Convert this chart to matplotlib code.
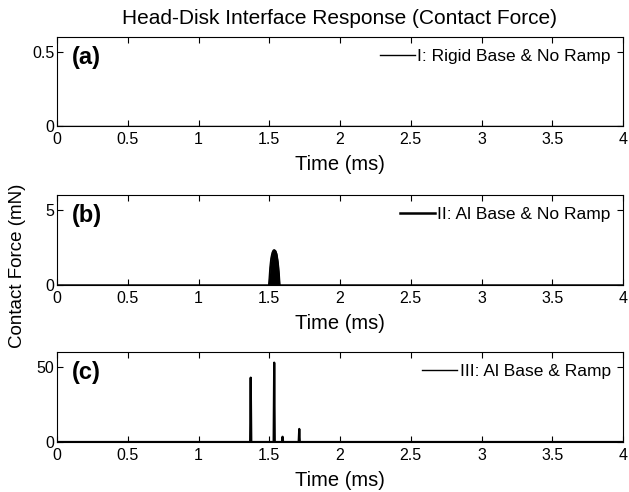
import matplotlib
matplotlib.use("Agg")
import matplotlib.pyplot as plt
from matplotlib.lines import Line2D

plt.rcParams['font.family'] = ['Liberation Sans', 'DejaVu Sans']

# ---- data ----
xticks = [0, 0.5, 1, 1.5, 2, 2.5, 3, 3.5, 4]
xticklabels = ['0', '0.5', '1', '1.5', '2', '2.5', '3', '3.5', '4']

# (a) rigid base, no ramp: no contact
t_a = [0.0, 4.0]
f_a = [0.0, 0.0]

# (b) Al base, no ramp: dense burst envelope around 1.5 ms
t_b = [0.0, 1.496, 1.500, 1.505, 1.512, 1.520, 1.527, 1.534, 1.543, 1.551, 1.558, 1.564, 1.569, 1.573, 4.0]
f_b = [0.0, 0.0, 0.5, 1.2, 1.8, 2.15, 2.3, 2.35, 2.3, 2.1, 1.7, 1.2, 0.6, 0.0, 0.0]

# (c) Al base with ramp: isolated impacts
t_c = [0.0, 1.365, 1.369, 1.373, 1.531, 1.535, 1.539, 1.590, 1.594, 1.598, 1.708, 1.712, 1.716, 4.0]
f_c = [0.0, 0.0, 42.9, 0.0, 0.0, 52.9, 0.0, 0.0, 3.5, 0.0, 0.0, 8.7, 0.0, 0.0]

W, H = 629, 492
fig = plt.figure(figsize=(W / 100, H / 100), dpi=100)

left = 57 / W
width = (623 - 57) / W
panels = [
    dict(top=37, bottom=126, ylim=(0, 0.6), yticks=[0, 0.5], ylabels=['0', '0.5'],
         label='(a)', leg='I: Rigid Base & No Ramp'),
    dict(top=195, bottom=285, ylim=(0, 6), yticks=[0, 5], ylabels=['0', '5'],
         label='(b)', leg='II: Al Base & No Ramp'),
    dict(top=352, bottom=442, ylim=(0, 60), yticks=[0, 50], ylabels=['0', '50'],
         label='(c)', leg='III: Al Base & Ramp'),
]

axes = []
for p in panels:
    ax = fig.add_axes([left, 1 - p['bottom'] / H, width, (p['bottom'] - p['top']) / H])
    ax.set_xlim(0, 4)
    ax.set_ylim(*p['ylim'])
    ax.set_xticks(xticks)
    ax.set_xticklabels(xticklabels)
    ax.set_yticks(p['yticks'])
    ax.set_yticklabels(p['ylabels'])
    ax.tick_params(direction='in', top=True, right=True, length=4, width=0.8,
                   labelsize=11.5)
    ax.tick_params(axis='x', pad=4)
    ax.tick_params(axis='y', pad=2)
    for s in ax.spines.values():
        s.set_linewidth(0.8)
        s.set_color('black')
    ax.set_xlabel('Time (ms)', fontsize=14.5, labelpad=6)
    ax.text(0.027, 0.77, p['label'], transform=ax.transAxes, fontsize=17,
            fontweight='bold', va='center', ha='left')
    axes.append(ax)

la, = axes[0].plot(t_a, f_a, color='black', lw=1.0)
axes[1].fill_between(t_b, f_b, 0, color='black', lw=0.8)
lb, = axes[1].plot(t_b, f_b, color='black', lw=1.0)
lc, = axes[2].plot(t_c, f_c, color='black', lw=1.6)

legend_lw = [1.0, 1.8, 1.0]
for ax, p, lw in zip(axes, panels, legend_lw):
    h = Line2D([], [], color='black', lw=lw)
    ax.legend([h], [p['leg']], loc='upper right', frameon=False, fontsize=12.5,
              handlelength=2.0, handletextpad=0.15, borderaxespad=0.3, borderpad=0.4)

fig.text(340 / W, 1 - 18 / H, 'Head-Disk Interface Response (Contact Force)',
         ha='center', va='center', fontsize=15)
fig.text(18 / W, 1 - 266 / H, 'Contact Force (mN)', rotation=90,
         ha='center', va='center', fontsize=13.5)

fig.savefig('out.png', dpi=100)
